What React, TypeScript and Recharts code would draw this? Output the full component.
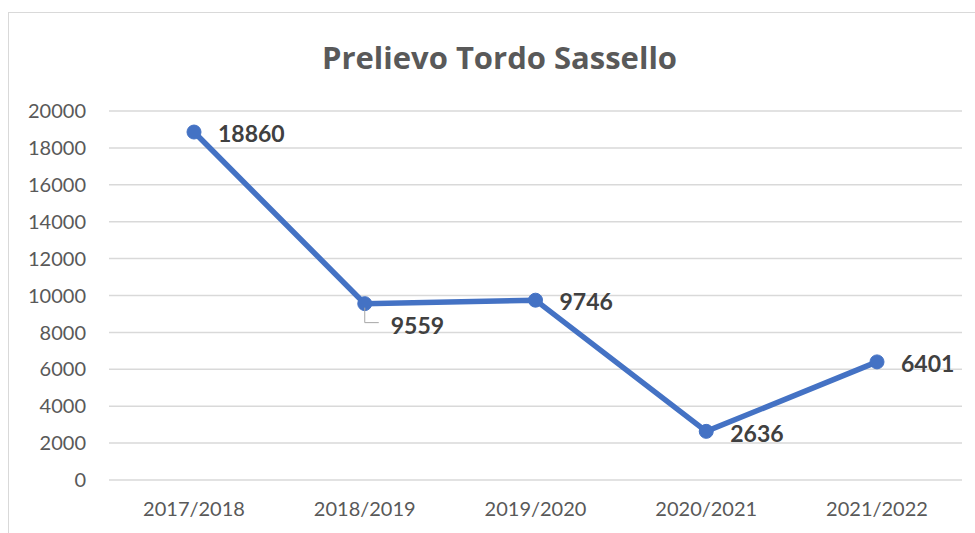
import React from 'react';
import { LineChart, Line, XAxis, YAxis, CartesianGrid, LabelList } from 'recharts';

const seasons = ['2017/2018', '2018/2019', '2019/2020', '2020/2021', '2021/2022'];
const harvest = [18860, 9559, 9746, 2636, 6401];
const yTicks = [0, 2000, 4000, 6000, 8000, 10000, 12000, 14000, 16000, 18000, 20000];

const chartData = seasons.map((season, i) => ({ season, value: harvest[i] }));

const FONT = 'Lato, "Open Sans", sans-serif';

const ValueLabel = (props: any) => {
  const { x, y, value, index } = props;
  if (index === 1) {
    // this one sits below the point, with a small leader line
    return (
      <g>
        <polyline
          points={`${x},${y + 4} ${x},${y + 19} ${x + 14},${y + 19}`}
          fill="none"
          stroke="#a6a6a6"
          strokeWidth={1}
        />
        <text x={x + 26} y={y + 22} dy="0.36em" fill="#404040" fontSize={23} fontWeight="bold" fontFamily={FONT}>
          {value}
        </text>
      </g>
    );
  }
  return (
    <text x={x + 24} y={y + 2} dy="0.36em" fill="#404040" fontSize={23} fontWeight="bold" fontFamily={FONT}>
      {value}
    </text>
  );
};

export default function App() {
  return (
    <div
      style={{
        position: 'absolute',
        left: 0,
        top: 0,
        width: 975,
        height: 533,
        overflow: 'hidden',
        background: '#fff',
      }}
    >
      <div
        style={{
          position: 'absolute',
          left: 8,
          top: 12,
          width: 1000,
          height: 600,
          border: '1px solid #d9d9d9',
        }}
      />
      <div
        style={{
          position: 'absolute',
          left: 0,
          width: 975,
          top: 37,
          textAlign: 'center',
          paddingLeft: 24,
          boxSizing: 'border-box',
          fontFamily: '"Open Sans", sans-serif',
          fontWeight: 'bold',
          fontSize: 31,
          lineHeight: '40px',
          color: '#595959',
        }}
      >
        Prelievo Tordo Sassello
      </div>
      <div style={{ position: 'absolute', left: 0, top: 0 }}>
        <LineChart width={975} height={533} data={chartData} margin={{ top: 111, right: 13, bottom: 23, left: 9 }}>
          <CartesianGrid vertical={false} stroke="#d9d9d9" strokeWidth={1.5} />
          <XAxis
            dataKey="season"
            padding={{ left: 85, right: 85 }}
            axisLine={false}
            tickLine={false}
            tickSize={0}
            tickMargin={22}
            height={30}
            tick={{ fill: '#595959', fontSize: 20, fontFamily: FONT }}
          />
          <YAxis
            domain={[0, 20000]}
            ticks={yTicks}
            interval={0}
            width={100}
            axisLine={false}
            tickLine={false}
            tickSize={0}
            tickMargin={23}
            tick={{ fill: '#595959', fontSize: 20, fontFamily: FONT }}
          />
          <Line
            type="linear"
            dataKey="value"
            stroke="#4472c4"
            strokeWidth={5.5}
            dot={{ r: 7, fill: '#4472c4', stroke: '#4472c4', strokeWidth: 1 }}
            isAnimationActive={false}
          >
            <LabelList dataKey="value" content={ValueLabel} />
          </Line>
        </LineChart>
      </div>
    </div>
  );
}
